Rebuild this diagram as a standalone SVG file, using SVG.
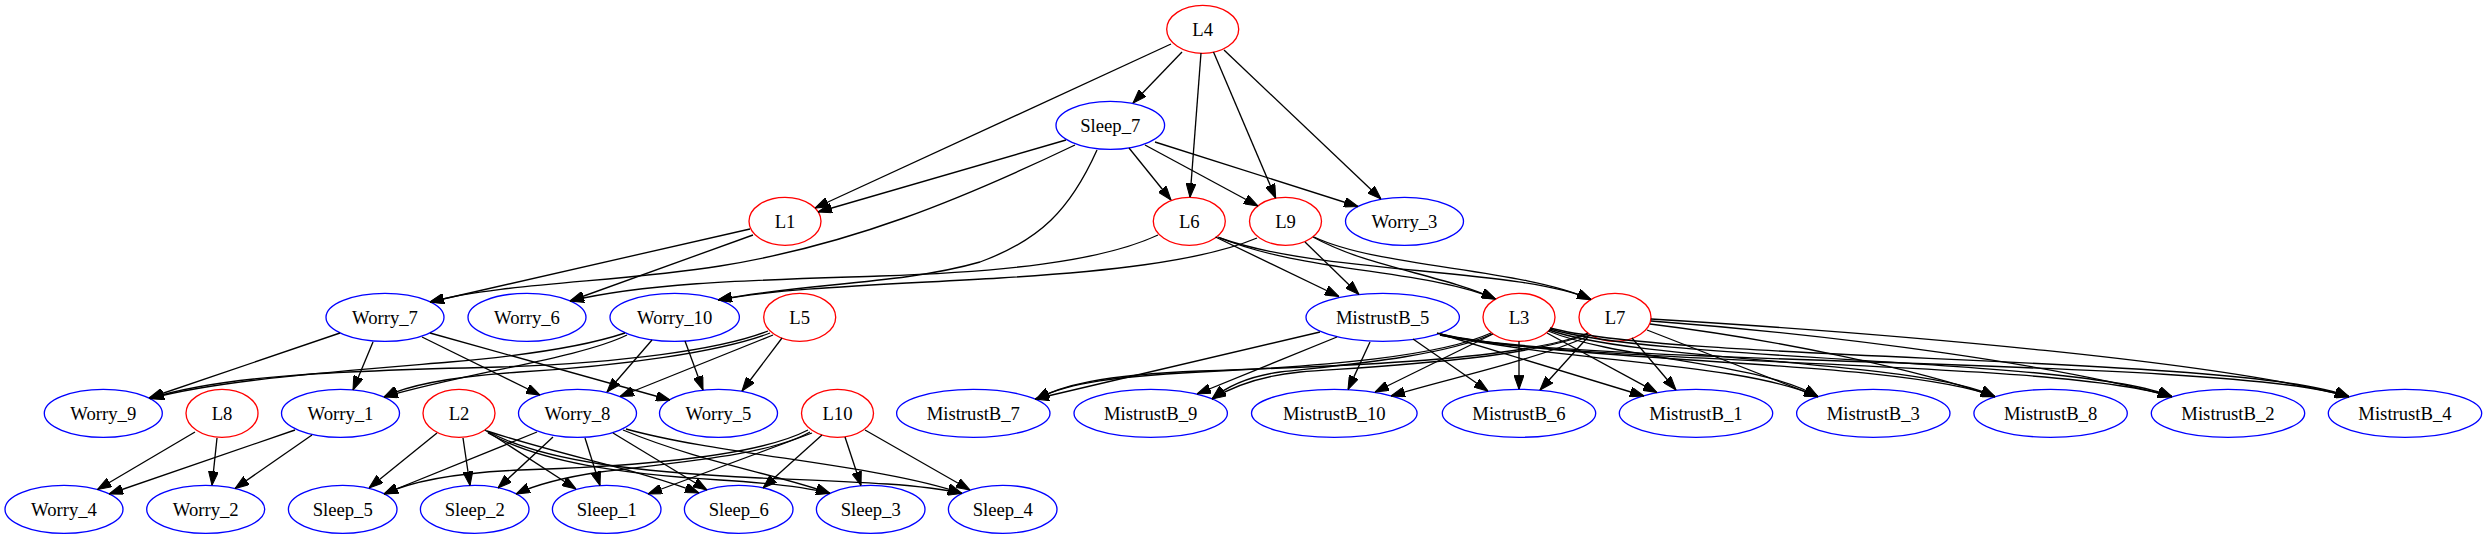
<svg xmlns="http://www.w3.org/2000/svg" width="2488" height="539" viewBox="0 0 2488 539">
<defs>
<style>
.n ellipse{fill:none;stroke-width:1.33}
.r ellipse{stroke:#ff0000}
.b ellipse{stroke:#0000ff}
.n text{font-family:"Liberation Serif","Times New Roman",Times,serif;font-size:18.67px;text-anchor:middle;fill:#000}
#edges path{fill:none;stroke:#000;stroke-width:1.33;marker-end:url(#ah)}
</style>
<marker id="ah" markerUnits="userSpaceOnUse" markerWidth="14" markerHeight="10" viewBox="0 0 13.3 9.4" refX="13.3" refY="4.7" orient="auto"><path d="M0,0 L13.3,4.7 L0,9.4 z" fill="#000" stroke="#000" stroke-width="1"/></marker>
</defs>
<rect width="2488" height="539" fill="#ffffff"/>
<g font-family="Liberation Serif, serif">
<g id="L4" class="n r"><ellipse cx="1202.7" cy="29.3" rx="36" ry="24"/><text x="1202.7" y="35.5">L4</text></g>
<g id="Sleep_7" class="n b"><ellipse cx="1110.3" cy="125.3" rx="54.3" ry="24"/><text x="1110.3" y="131.5">Sleep_7</text></g>
<g id="L1" class="n r"><ellipse cx="785" cy="221.3" rx="36" ry="24"/><text x="785" y="227.5">L1</text></g>
<g id="L6" class="n r"><ellipse cx="1189.3" cy="221.3" rx="36" ry="24"/><text x="1189.3" y="227.5">L6</text></g>
<g id="L9" class="n r"><ellipse cx="1285.5" cy="221.3" rx="36" ry="24"/><text x="1285.5" y="227.5">L9</text></g>
<g id="Worry_3" class="n b"><ellipse cx="1404.5" cy="221.3" rx="59" ry="24"/><text x="1404.5" y="227.5">Worry_3</text></g>
<g id="Worry_7" class="n b"><ellipse cx="385" cy="317.3" rx="59" ry="24"/><text x="385" y="323.5">Worry_7</text></g>
<g id="Worry_6" class="n b"><ellipse cx="527" cy="317.3" rx="59" ry="24"/><text x="527" y="323.5">Worry_6</text></g>
<g id="Worry_10" class="n b"><ellipse cx="674.7" cy="317.3" rx="64.7" ry="24"/><text x="674.7" y="323.5">Worry_10</text></g>
<g id="L5" class="n r"><ellipse cx="799.7" cy="317.3" rx="36" ry="24"/><text x="799.7" y="323.5">L5</text></g>
<g id="MistrustB_5" class="n b"><ellipse cx="1382.7" cy="317.3" rx="76.7" ry="24"/><text x="1382.7" y="323.5">MistrustB_5</text></g>
<g id="L3" class="n r"><ellipse cx="1519" cy="317.3" rx="36" ry="24"/><text x="1519" y="323.5">L3</text></g>
<g id="L7" class="n r"><ellipse cx="1615" cy="317.3" rx="36" ry="24"/><text x="1615" y="323.5">L7</text></g>
<g id="Worry_9" class="n b"><ellipse cx="103.3" cy="413.3" rx="59" ry="24"/><text x="103.3" y="419.5">Worry_9</text></g>
<g id="L8" class="n r"><ellipse cx="222" cy="413.3" rx="36" ry="24"/><text x="222" y="419.5">L8</text></g>
<g id="Worry_1" class="n b"><ellipse cx="340.5" cy="413.3" rx="59" ry="24"/><text x="340.5" y="419.5">Worry_1</text></g>
<g id="L2" class="n r"><ellipse cx="459" cy="413.3" rx="36" ry="24"/><text x="459" y="419.5">L2</text></g>
<g id="Worry_8" class="n b"><ellipse cx="577.5" cy="413.3" rx="59" ry="24"/><text x="577.5" y="419.5">Worry_8</text></g>
<g id="Worry_5" class="n b"><ellipse cx="718.5" cy="413.3" rx="59" ry="24"/><text x="718.5" y="419.5">Worry_5</text></g>
<g id="L10" class="n r"><ellipse cx="837.5" cy="413.3" rx="36" ry="24"/><text x="837.5" y="419.5">L10</text></g>
<g id="MistrustB_7" class="n b"><ellipse cx="973.3" cy="413.3" rx="76.7" ry="24"/><text x="973.3" y="419.5">MistrustB_7</text></g>
<g id="MistrustB_9" class="n b"><ellipse cx="1150.7" cy="413.3" rx="76.7" ry="24"/><text x="1150.7" y="419.5">MistrustB_9</text></g>
<g id="MistrustB_10" class="n b"><ellipse cx="1334.3" cy="413.3" rx="82.8" ry="24"/><text x="1334.3" y="419.5">MistrustB_10</text></g>
<g id="MistrustB_6" class="n b"><ellipse cx="1519" cy="413.3" rx="76.7" ry="24"/><text x="1519" y="419.5">MistrustB_6</text></g>
<g id="MistrustB_1" class="n b"><ellipse cx="1696" cy="413.3" rx="76.7" ry="24"/><text x="1696" y="419.5">MistrustB_1</text></g>
<g id="MistrustB_3" class="n b"><ellipse cx="1873.3" cy="413.3" rx="76.7" ry="24"/><text x="1873.3" y="419.5">MistrustB_3</text></g>
<g id="MistrustB_8" class="n b"><ellipse cx="2050.6" cy="413.3" rx="76.7" ry="24"/><text x="2050.6" y="419.5">MistrustB_8</text></g>
<g id="MistrustB_2" class="n b"><ellipse cx="2228" cy="413.3" rx="76.7" ry="24"/><text x="2228" y="419.5">MistrustB_2</text></g>
<g id="MistrustB_4" class="n b"><ellipse cx="2405" cy="413.3" rx="76.7" ry="24"/><text x="2405" y="419.5">MistrustB_4</text></g>
<g id="Worry_4" class="n b"><ellipse cx="64" cy="509.3" rx="59" ry="24"/><text x="64" y="515.5">Worry_4</text></g>
<g id="Worry_2" class="n b"><ellipse cx="205.7" cy="509.3" rx="59" ry="24"/><text x="205.7" y="515.5">Worry_2</text></g>
<g id="Sleep_5" class="n b"><ellipse cx="342.7" cy="509.3" rx="54.3" ry="24"/><text x="342.7" y="515.5">Sleep_5</text></g>
<g id="Sleep_2" class="n b"><ellipse cx="474.7" cy="509.3" rx="54.3" ry="24"/><text x="474.7" y="515.5">Sleep_2</text></g>
<g id="Sleep_1" class="n b"><ellipse cx="606.7" cy="509.3" rx="54.3" ry="24"/><text x="606.7" y="515.5">Sleep_1</text></g>
<g id="Sleep_6" class="n b"><ellipse cx="738.7" cy="509.3" rx="54.3" ry="24"/><text x="738.7" y="515.5">Sleep_6</text></g>
<g id="Sleep_3" class="n b"><ellipse cx="870.7" cy="509.3" rx="54.3" ry="24"/><text x="870.7" y="515.5">Sleep_3</text></g>
<g id="Sleep_4" class="n b"><ellipse cx="1002.7" cy="509.3" rx="54.3" ry="24"/><text x="1002.7" y="515.5">Sleep_4</text></g>
</g>
<g id="edges">
<path d="M1182,52 L1133,103"/>
<path d="M1171,44 L815,208"/>
<path d="M1201,53 L1190,197.3"/>
<path d="M1213.5,52 L1275.7,198.2"/>
<path d="M1224,50 L1381,199"/>
<path d="M1066,140 L818,212"/>
<path d="M1075,145 C960,200 850,245 720,266 C620,282 500,283 430,302"/>
<path d="M1097,150 C1070,210 1040,240 980,262 C900,285 800,283 718,300"/>
<path d="M1129,148 L1171,200"/>
<path d="M1145,145 L1258,206"/>
<path d="M1155,142 L1358,206.5"/>
<path d="M750,229 L430,302"/>
<path d="M753,235 L570,301"/>
<path d="M1158,235 C1100,262 1000,272 880,276 C760,280 650,282 570,301"/>
<path d="M1215.5,237 L1339,296.5"/>
<path d="M1218,237 C1300,272 1430,270 1495.5,299"/>
<path d="M1220,238 C1320,274 1520,268 1591,299.5"/>
<path d="M1257,238 C1200,262 1100,272 1000,278 C880,285 780,288 718,300"/>
<path d="M1305,242 L1359,294.5"/>
<path d="M1313,237 C1370,268 1440,274 1495.5,299"/>
<path d="M1314,237 C1380,268 1520,268 1591,299.5"/>
<path d="M340,333 L149,398"/>
<path d="M373,342 L353,390"/>
<path d="M422,337 L540,395"/>
<path d="M430,333 L670,400"/>
<path d="M652,340 L607,392"/>
<path d="M685,341 L703,390"/>
<path d="M625,333 C580,348 520,356 450,362 C330,372 220,380 150,398.5"/>
<path d="M627,335 C580,358 470,372 384,397"/>
<path d="M782,338 L742,391"/>
<path d="M773,335 L620,396.5"/>
<path d="M770,333 C720,352 620,366 520,372 C460,376 410,384 384,397"/>
<path d="M768,331 C720,350 620,363 500,367 C330,371 220,376 150,398.5"/>
<path d="M295,430 L109,494"/>
<path d="M312,435 L235,488.5"/>
<path d="M195,432 L97.5,489.5"/>
<path d="M217,438 L212,485.3"/>
<path d="M437,433 L369,488"/>
<path d="M463,438 L470,485.5"/>
<path d="M485,430 L576,489"/>
<path d="M487,431 C560,455 640,470 699,493"/>
<path d="M488,433 C540,462 620,474 720,480 C770,483 805,487 830,493.4"/>
<path d="M489,432 C545,462 640,472 760,478 C860,482 920,484 962,493.4"/>
<path d="M537,432 L384,494"/>
<path d="M553,437 L498,488"/>
<path d="M585,438 L600,485.5"/>
<path d="M613,433 L707,490"/>
<path d="M623,430 C700,462 780,475 830,493.4"/>
<path d="M626,429 C720,455 880,465 962,493.4"/>
<path d="M808,430 C760,455 650,466 520,470 C450,473 410,482 384,494"/>
<path d="M810,432 C770,455 680,462 600,472 C560,478 535,485 516,494"/>
<path d="M812,433 L648,494"/>
<path d="M822,435 L763,488"/>
<path d="M845,437 L861,485.5"/>
<path d="M865,430 L970,490"/>
<path d="M1320,332 L1035,399"/>
<path d="M1337,337 L1197,394"/>
<path d="M1370,342 L1348,389.6"/>
<path d="M1413,339 L1488,391"/>
<path d="M1437,333 L1644,396"/>
<path d="M1440,334 C1560,362 1740,362 1818,396.7"/>
<path d="M1440,334 C1580,364 1900,360 1995,396.7"/>
<path d="M1440,335 C1590,366 2060,360 2172,396.7"/>
<path d="M1440,335 C1600,367 2230,358 2349,396.7"/>
<path d="M1519,341.3 L1519,389.3"/>
<path d="M1493,334 L1375,392"/>
<path d="M1492,334 C1440,358 1330,366 1280,372 C1245,377 1225,388 1212,399"/>
<path d="M1491,333 C1440,356 1330,366 1200,372 C1100,377 1060,386 1036,399.5"/>
<path d="M1547,333 L1657,392.6"/>
<path d="M1548,331 C1620,360 1760,362 1818,396.7"/>
<path d="M1549,330 C1640,362 1920,360 1995,396.7"/>
<path d="M1550,329 C1660,362 2080,358 2172,396.7"/>
<path d="M1550,328 C1680,362 2250,356 2349,396.7"/>
<path d="M1588,337 L1540,390"/>
<path d="M1591,335 C1530,362 1450,378 1391,396"/>
<path d="M1588,334 C1520,360 1380,366 1300,372 C1260,376 1230,388 1212,399"/>
<path d="M1588,333 C1520,360 1350,366 1200,371 C1100,375 1060,386 1036,399.5"/>
<path d="M1632,338 L1676,390"/>
<path d="M1647,330 L1818,396.7"/>
<path d="M1650,324 C1780,340 1920,370 1995,396.7"/>
<path d="M1651,321 C1850,336 2060,366 2172,396.7"/>
<path d="M1651,319 C1900,334 2220,362 2349,396.7"/>
</g>
</svg>
